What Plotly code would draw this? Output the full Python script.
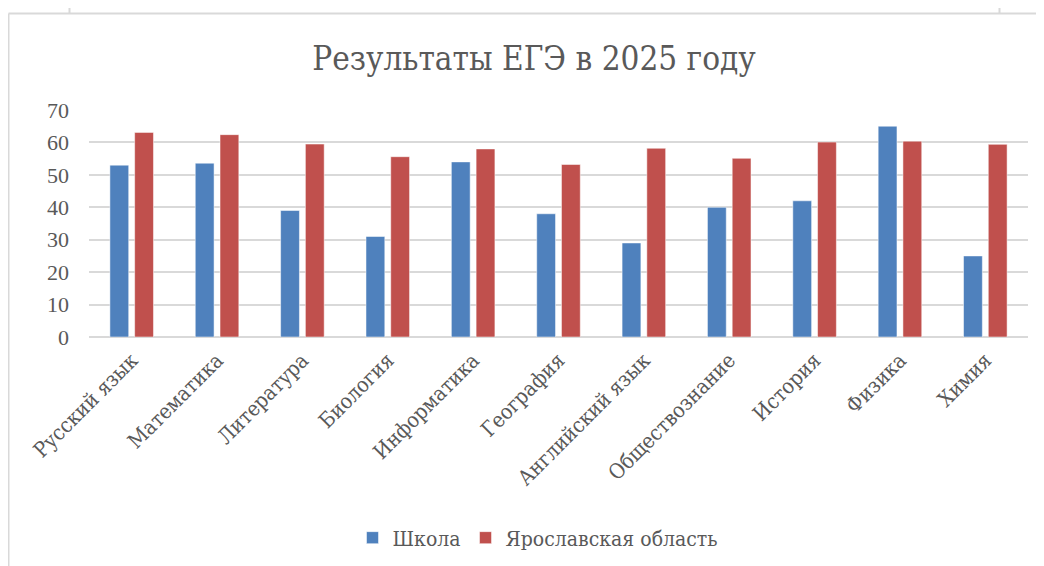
import plotly.graph_objects as go

categories = ["Русский язык", "Математика", "Литература", "Биология", "Информатика",
              "География", "Английский язык", "Обществознание", "История", "Физика", "Химия"]
school = [53, 53.6, 39, 31, 54, 38, 29, 40, 42, 65, 25]
region = [63.1, 62.4, 59.5, 55.6, 58, 53.2, 58.2, 55.1, 60.1, 60.4, 59.4]
series_names = ["Школа", "Ярославская область"]
y_ticks = [0, 10, 20, 30, 40, 50, 60, 70]

NUM_FONT = "Liberation Serif, Times New Roman, serif"
TXT_FONT = "DejaVu Serif Condensed, DejaVu Serif, serif"
GREY = "#595959"

W, H = 1044, 566
OFF = 8  # default page body margin
L, R, T, B = 89 - OFF, 1028 - OFF, 110 - OFF, 337 - OFF


def px(x):
    return (x - OFF - L) / (R - L)


def py(y):
    return (B - (y - OFF)) / (B - T)


fig = go.Figure()
fig.add_trace(go.Bar(x=categories, y=school, name=series_names[0],
                     marker=dict(color="#4F81BD", line=dict(color="rgba(255,255,255,0.5)", width=1))))
fig.add_trace(go.Bar(x=categories, y=region, name=series_names[1],
                     marker=dict(color="#C0504D", line=dict(color="rgba(255,255,255,0.5)", width=1))))

frame = "#d9d9d9"
shapes = [
    dict(type="line", xref="paper", yref="paper", x0=px(8.5), x1=px(1060), y0=py(13.5), y1=py(13.5),
         line=dict(color=frame, width=2)),
    dict(type="line", xref="paper", yref="paper", x0=px(8.5), x1=px(8.5), y0=py(13.5), y1=py(580),
         line=dict(color=frame, width=2)),
    dict(type="line", xref="paper", yref="paper", x0=px(69.5), x1=px(69.5), y0=py(0), y1=py(13.5),
         line=dict(color=frame, width=2)),
    dict(type="line", xref="paper", yref="paper", x0=px(999.5), x1=px(999.5), y0=py(0), y1=py(13.5),
         line=dict(color=frame, width=2)),
]

fig.update_layout(
    width=W, height=H,
    margin=dict(l=L, r=W - R, t=T, b=H - B, autoexpand=False),
    paper_bgcolor="white", plot_bgcolor="white",
    font=dict(family=TXT_FONT, color=GREY, size=20),
    title=dict(text="Результаты ЕГЭ в 2025 году", x=(534 - OFF) / W, y=1 - (58 - OFF) / H,
               xanchor="center", yanchor="middle",
               font=dict(family=TXT_FONT, size=33, color=GREY)),
    barmode="group", bargap=0.42, bargroupgap=0.24,
    xaxis=dict(tickangle=-45, showgrid=False, showline=False, ticks="",
               tickfont=dict(family=TXT_FONT, size=21, color=GREY), ticklabelstandoff=6),
    yaxis=dict(range=[0, 70], tickvals=y_ticks, showgrid=True, gridcolor="#d9d9d9", gridwidth=1.5,
               zeroline=True, zerolinecolor="#d9d9d9", zerolinewidth=1.5, showline=False, ticks="",
               tickfont=dict(family=NUM_FONT, size=22, color=GREY), ticklabelstandoff=19),
    legend=dict(orientation="h", x=px(538), y=py(538), xanchor="center", yanchor="middle",
                font=dict(family=TXT_FONT, size=21, color=GREY), itemwidth=30, tracegroupgap=0),
    shapes=shapes,
)

fig.write_html("out.html")
